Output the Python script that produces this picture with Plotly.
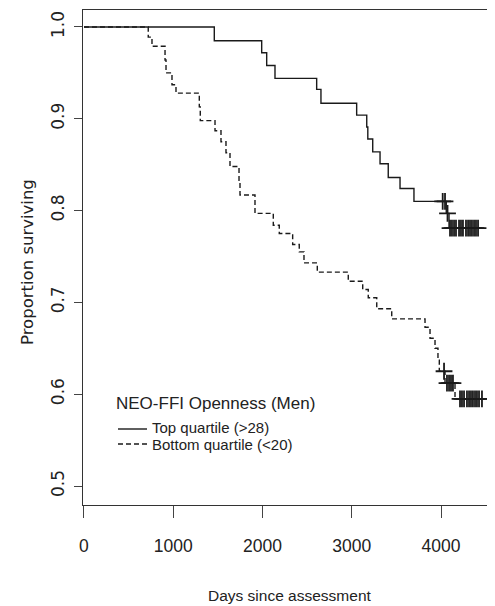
import plotly.graph_objects as go

# ---------------- data ----------------
x_ticks = [0, 1000, 2000, 3000, 4000]
y_ticks = [0.5, 0.6, 0.7, 0.8, 0.9, 1.0]
y_tick_labels = ["0.5", "0.6", "0.7", "0.8", "0.9", "1.0"]

top_name = "Top quartile (>28)"
top_event_days = [1460, 1991, 2047, 2140, 2607, 2655, 3055, 3168, 3180, 3235,
                  3317, 3409, 3541, 3697, 4059, 4090]
top_surv = [0.985, 0.972, 0.958, 0.944, 0.932, 0.917, 0.904, 0.891, 0.878, 0.864,
            0.851, 0.836, 0.824, 0.810, 0.797, 0.781]
top_censor_days = [4019, 4045, 4073, 4101, 4123, 4146, 4168, 4202, 4224, 4246,
                   4280, 4303, 4325, 4347, 4370, 4392, 4415]

bottom_name = "Bottom quartile (<20)"
bottom_event_days = [720, 762, 908, 919, 986, 1031, 1292, 1303, 1468, 1535,
                     1591, 1636, 1737, 1748, 1916, 2121, 2188, 2338, 2412, 2465,
                     2614, 2961, 3123, 3185, 3280, 3448, 3821, 3877, 3933, 3966,
                     3981, 4045, 4157]
bottom_surv = [0.989, 0.979, 0.964, 0.950, 0.937, 0.928, 0.913, 0.898, 0.887, 0.875,
               0.863, 0.848, 0.833, 0.817, 0.797, 0.784, 0.775, 0.763, 0.755, 0.743,
               0.733, 0.723, 0.714, 0.705, 0.693, 0.682, 0.673, 0.661, 0.650, 0.637,
               0.625, 0.612, 0.595]
bottom_censor_days = [4034, 4067, 4090, 4112, 4134, 4213, 4235, 4258, 4291, 4314,
                      4336, 4358, 4381, 4403, 4426, 4459]

legend_title = "NEO-FFI Openness (Men)"
x_title = "Days since assessment"
y_title = "Proportion surviving"

# ---------------- helpers ----------------
def step_xy(days, surv, censor_days):
    x = [0] + list(days) + [max(censor_days)]
    y = [1.0] + list(surv) + [surv[-1]]
    return x, y


def level_at(days, surv, t):
    s = 1.0
    for d, v in zip(days, surv):
        if d <= t:
            s = v
    return s


OFF = 8                      # page (body) margin of the browser
W, H = 495 - OFF, 606 - OFF
ML, MR, MT, MB = 83 - OFF, 0, 10 - OFF, 606 - 505
PW, PH = W - ML - MR, H - MT - MB


def px(xp):  # screenshot pixel -> paper x
    return (xp - OFF - ML) / PW


def py(yp):  # screenshot pixel -> paper y
    return (H - MB - (yp - OFF)) / PH


LINE = "#1a1a1a"
SANS = "Liberation Sans, Arial, Helvetica, sans-serif"
WIDE = "DejaVu Sans, Liberation Sans, Arial, sans-serif"

fig = go.Figure()

for name, days, surv, cens, dash in [
    (top_name, top_event_days, top_surv, top_censor_days, "solid"),
    (bottom_name, bottom_event_days, bottom_surv, bottom_censor_days, "5px,3px"),
]:
    xs, ys = step_xy(days, surv, cens)
    fig.add_trace(go.Scatter(
        x=xs, y=ys, mode="lines", line_shape="hv", name=name,
        line=dict(color=LINE, width=1.4, dash=dash), showlegend=False,
        hoverinfo="skip"))
    fig.add_trace(go.Scatter(
        x=cens, y=[level_at(days, surv, t) for t in cens], mode="markers",
        marker=dict(symbol="cross-thin", size=12, color=LINE,
                    line=dict(color=LINE, width=1.8)),
        showlegend=False, hoverinfo="skip"))

fig.update_layout(
    width=W, height=H,
    margin=dict(l=ML, r=MR, t=MT, b=MB, pad=0),
    paper_bgcolor="white", plot_bgcolor="white",
    xaxis=dict(range=[-11, 4605], tickvals=x_ticks, ticks="outside", ticklen=12,
               tickcolor="#444", tickwidth=1.2, showline=True, linecolor="#333",
               linewidth=1.3, mirror=True, showgrid=False, zeroline=False,
               tickfont=dict(family=SANS, size=17.5, color="#222"),
               ticklabelstandoff=13),
    yaxis=dict(range=[0.4793, 1.0185], tickvals=y_ticks, ticktext=y_tick_labels,
               ticks="outside", ticklen=8, tickcolor="#444", tickwidth=1.2,
               showline=True, linecolor="#333", linewidth=1.3, mirror=False,
               showgrid=False, zeroline=False, tickangle=-90,
               tickfont=dict(family=WIDE, size=17, color="#222"),
               ticklabelstandoff=3),
)

annotations = [
    dict(text=x_title, x=px(290), y=py(595), xanchor="center", yanchor="middle",
         font=dict(family=SANS, size=15.5, color="#222")),
    dict(text=y_title, x=px(28), y=py(262), xanchor="center", yanchor="middle",
         textangle=-90, font=dict(family=WIDE, size=16.5, color="#222")),
    dict(text=legend_title, x=px(114), y=py(403), xanchor="left", yanchor="middle",
         font=dict(family=SANS, size=17, color="#222")),
    dict(text=top_name, x=px(150), y=py(427), xanchor="left", yanchor="middle",
         font=dict(family=SANS, size=15, color="#222")),
    dict(text=bottom_name, x=px(150), y=py(444), xanchor="left", yanchor="middle",
         font=dict(family=SANS, size=15, color="#222")),
]
for a in annotations:
    a.update(xref="paper", yref="paper", showarrow=False)
fig.update_layout(annotations=annotations)

fig.add_shape(type="line", xref="paper", yref="paper", x0=px(118), x1=px(147),
              y0=py(429), y1=py(429), line=dict(color=LINE, width=1.4))
fig.add_shape(type="line", xref="paper", yref="paper", x0=px(118), x1=px(147),
              y0=py(444), y1=py(444), line=dict(color=LINE, width=1.4, dash="5px,3px"))

fig.write_html("out.html")
